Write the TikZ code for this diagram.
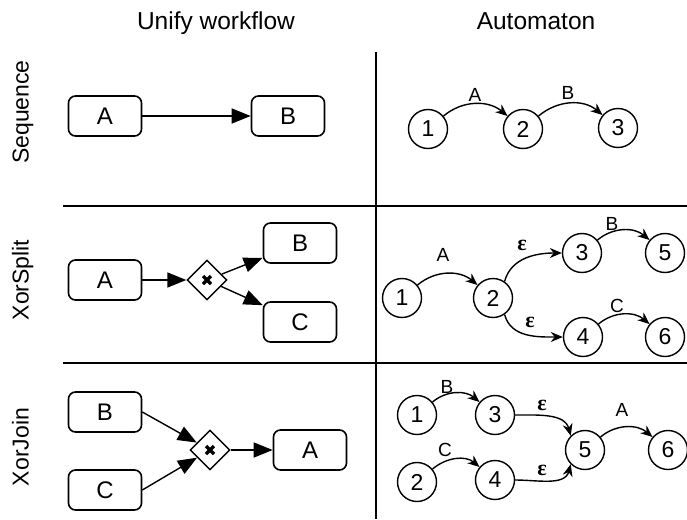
\documentclass[tikz,border=0pt]{standalone}
\usepackage{fontspec}
\setmainfont{Liberation Sans}
\newfontfamily\epsfont{Liberation Serif}
\usetikzlibrary{arrows.meta,shapes.geometric}

\begin{document}
\begin{tikzpicture}[x=1pt,y=-1pt,
  every node/.style={font=\fontsize{24}{28}\selectfont},
  head/.style={font=\fontsize{24.5}{28}\selectfont, anchor=base},
  rowlabel/.style={rotate=90, anchor=base, font=\fontsize{23}{26}\selectfont},
  task/.style={draw, line width=1.6pt, rounded corners=7pt,
    minimum width=73pt, minimum height=40pt, inner sep=0pt},
  gate/.style={draw, diamond, line width=1.4pt, minimum width=40pt,
    minimum height=40pt, inner sep=0pt},
  xmark/.style={line width=3.2pt},
  flow/.style={line width=1.4pt, -{Triangle[length=19pt,width=15pt]}},
  state/.style={draw, circle, line width=1.4pt, minimum size=39pt, inner sep=0pt,
    font=\fontsize{23}{26}\selectfont},
  trans/.style={line width=1.4pt, -{Stealth[length=12pt,width=10pt]}},
  tlabel/.style={font=\fontsize{19}{22}\selectfont, inner sep=0pt},
  eps/.style={font=\epsfont\bfseries\fontsize{22}{24}\selectfont, inner sep=0pt},
  sep/.style={line width=1.8pt}
]
\useasboundingbox (0,0) rectangle (687,519);

% column headings and row labels
\node[head] (h1) at (216,30) {Unify workflow};
\node[head] (h2) at (536,30) {Automaton};
\node[rowlabel] (r1) at (28.5,112) {Sequence};
\node[rowlabel] (r2) at (28.5,280) {XorSplit};
\node[rowlabel] (r3) at (28.5,447) {XorJoin};

% table rules
\coordinate (vt) at (376,52);
\coordinate (vb) at (376,519);
\coordinate (h1l) at (63,206);
\coordinate (h1r) at (687,206);
\coordinate (h2l) at (63,363);
\coordinate (h2r) at (687,363);
\draw[sep] (vt) -- (vb);
\draw[sep] (h1l) -- (h1r);
\draw[sep] (h2l) -- (h2r);

% ---- Sequence: workflow
\node[task] (sA) at (105,116) {A};
\node[task] (sB) at (288,116) {B};
\draw[flow] (sA) -- (sB);

% ---- Sequence: automaton
\node[state] (q1) at (428,129) {1};
\node[state] (q2) at (523,129) {2};
\node[state] (q3) at (618,128) {3};
\draw[trans] (q1) to[out=40,in=140] (q2);
\draw[trans] (q2) to[out=40,in=140] (q3);
\node[tlabel] (lqa) at (475,95) {A};
\node[tlabel] (lqb) at (568,93) {B};

% ---- XorSplit: workflow
\node[task] (xA) at (105,280) {A};
\node[gate] (xg) at (207,280) {};
\draw[xmark] ([shift={(-4,-4)}]xg.center) -- ([shift={(4,4)}]xg.center);
\draw[xmark] ([shift={(-4,4)}]xg.center) -- ([shift={(4,-4)}]xg.center);
\node[task] (xB) at (300,243) {B};
\node[task] (xC) at (300,322) {C};
\draw[flow] (xA) -- (xg);
\draw[flow] (xg) -- (xB);
\draw[flow] (xg) -- (xC);

% ---- XorSplit: automaton
\node[state] (p1) at (402,298) {1};
\node[state] (p2) at (493,298) {2};
\node[state] (p3) at (582,253) {3};
\node[state] (p5) at (665,253) {5};
\node[state] (p4) at (583,337) {4};
\node[state] (p6) at (665,337) {6};
\draw[trans] (p1) to[out=40,in=140] (p2);
\draw[trans] (p2.55) to[out=75,in=180] (p3.west);
\draw[trans] (p2.-55) to[out=-75,in=180] (p4.west);
\draw[trans] (p3) to[out=40,in=140] (p5);
\draw[trans] (p4) to[out=40,in=140] (p6);
\node[tlabel] (lpa) at (443,255) {A};
\node[eps] (lpe1) at (522,245) {ε};
\node[tlabel] (lpb) at (612,224) {B};
\node[eps] (lpe2) at (530,322) {ε};
\node[tlabel] (lpc) at (617,306) {C};

% ---- XorJoin: workflow
\node[task] (jB) at (105,412) {B};
\node[task] (jC) at (105,490) {C};
\node[gate] (jg) at (210,450) {};
\draw[xmark] ([shift={(-4,-4)}]jg.center) -- ([shift={(4,4)}]jg.center);
\draw[xmark] ([shift={(-4,4)}]jg.center) -- ([shift={(4,-4)}]jg.center);
\node[task] (jA) at (310,450) {A};
\draw[flow] (jB.east) -- (jg);
\draw[flow] (jC.east) -- (jg);
\draw[flow] (jg) -- (jA);

% ---- XorJoin: automaton
\node[state] (u1) at (417,415) {1};
\node[state] (u3) at (495,415) {3};
\node[state] (u2) at (417,482) {2};
\node[state] (u4) at (495,480) {4};
\node[state] (u5) at (585,450) {5};
\node[state] (u6) at (668,450) {6};
\draw[trans] (u1) to[out=40,in=140] (u3);
\draw[trans] (u2) to[out=40,in=140] (u4);
\draw[trans] (u3.east) to[out=0,in=105] (u5.135);
\draw[trans] (u4.east) to[out=0,in=255] (u5.225);
\draw[trans] (u5) to[out=40,in=140] (u6);
\node[tlabel] (lub) at (447,387) {B};
\node[tlabel] (luc) at (445,450) {C};
\node[eps] (lue1) at (542,405) {ε};
\node[eps] (lue2) at (542,470) {ε};
\node[tlabel] (lua) at (622,410) {A};
\end{tikzpicture}
\end{document}
